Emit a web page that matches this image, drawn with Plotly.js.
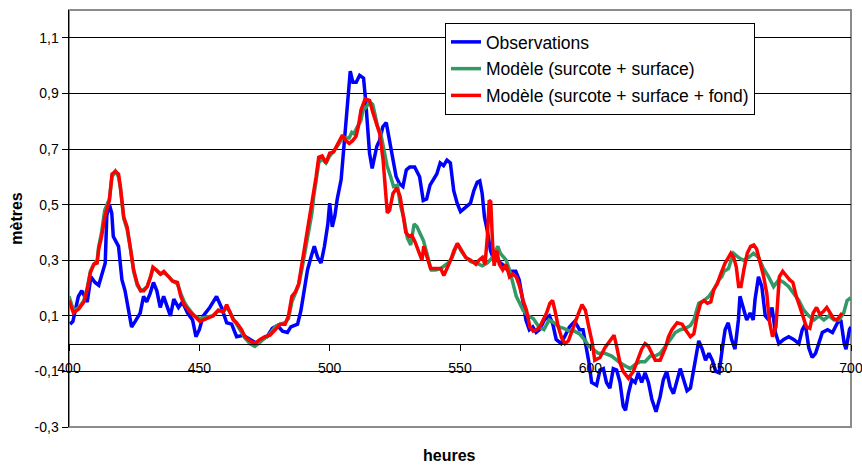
<!DOCTYPE html>
<html>
<head>
<meta charset="utf-8">
<script src="https://cdn.plot.ly/plotly-3.0.1.min.js"></script>
<style>html,body{margin:0;padding:0;background:#fff;}#chart{width:862px;height:467px;}</style>
</head>
<body>
<div id="chart"></div>
<script>
// ---- Data (hours, metres) ----
const obsHours = [400.4,401.5,403.6,404.9,406,407,408.4,410,411.4,412.6,413.9,414.5,415.5,416.4,417,419,420.3,421.5,422.8,424,425.4,427.3,428.6,429.8,431.1,432.4,433.7,435,436.3,437.6,438.9,440.2,442,443.5,445.5,447.4,448.7,450,451.5,454,456.6,458.5,460.5,462.4,464.3,466.9,469.5,472,474,476,478,480,481.9,483.8,485.1,486.4,487.7,489,490.2,491.5,492.8,494.1,495.4,496.7,498,499.3,500,501,502,502.9,504.4,505.6,507,507.9,508.9,510.2,511.5,513,513.8,514.7,515.3,516.3,517.2,518.1,519.1,520.4,521.7,523,524.2,525.5,526.8,528.1,529.4,530.7,532.6,534.5,535.9,537.2,538.5,539.8,541.1,542.4,543.7,545,546.3,547.6,548.9,550.2,552.1,554,555.3,556.6,557.6,558.5,559.4,560.4,561.7,563,564.3,565.6,566.9,568.2,569.5,571.4,572.7,574,575.3,576.6,577.9,579.2,580.5,582.4,584.3,585.6,586.9,588.8,590.1,592,594,595.9,597.2,598.5,599.5,600.5,602.4,603.7,605,606.2,607.5,608.8,610.1,611.4,612.6,613.5,614.6,615.9,617.2,618.4,619.7,621,622.3,623.6,625.2,626.8,628,629.3,630.6,631.9,633.2,634.5,635.8,637.1,638.4,639.7,641.6,642.9,644.2,645.5,646.8,648.1,649.4,650.6,651.7,652.9,654.2,655.5,656.8,657.4,658.7,660,661.3,662.5,663.2,664.5,665.8,667.1,668.4,669.7,671,672.3,674.2,676.1,678,680,681.3,682.5,683.8,685.1,686.4,687.7,689,691,692.9,694.8,696.1,697.4,698.1,699.4,700];
const obsValues = [0.07,0.08,0.17,0.19,0.17,0.15,0.24,0.22,0.21,0.25,0.29,0.46,0.50,0.47,0.385,0.35,0.23,0.19,0.13,0.06,0.08,0.11,0.17,0.15,0.18,0.22,0.19,0.13,0.17,0.13,0.10,0.16,0.13,0.15,0.11,0.085,0.025,0.05,0.10,0.13,0.17,0.13,0.075,0.07,0.025,0.03,0.015,0.0,0.015,0.025,0.055,0.065,0.045,0.04,0.06,0.065,0.07,0.12,0.19,0.265,0.31,0.35,0.31,0.29,0.35,0.43,0.505,0.42,0.46,0.52,0.59,0.72,0.89,0.98,0.94,0.94,0.965,0.955,0.875,0.755,0.685,0.63,0.67,0.71,0.73,0.78,0.795,0.73,0.67,0.60,0.575,0.565,0.625,0.635,0.635,0.60,0.515,0.52,0.57,0.59,0.61,0.65,0.64,0.66,0.65,0.55,0.505,0.475,0.49,0.505,0.55,0.58,0.585,0.54,0.455,0.41,0.335,0.30,0.30,0.29,0.28,0.265,0.26,0.26,0.23,0.16,0.085,0.05,0.06,0.04,0.05,0.085,0.10,0.07,0.015,0.0,0.025,0.06,0.08,0.05,0.05,-0.01,-0.07,-0.14,-0.15,-0.095,-0.09,-0.14,-0.16,-0.09,-0.095,-0.14,-0.225,-0.24,-0.18,-0.13,-0.14,-0.105,-0.14,-0.105,-0.14,-0.2,-0.245,-0.19,-0.13,-0.1,-0.155,-0.18,-0.13,-0.09,-0.13,-0.17,-0.16,-0.09,0.01,-0.02,-0.06,-0.035,-0.06,-0.1,-0.105,-0.02,0.05,0.075,0.015,-0.02,0.085,0.17,0.13,0.085,0.11,0.085,0.16,0.24,0.205,0.10,0.085,0.13,0.04,0.0,0.015,0.025,0.015,0.0,0.05,0.07,-0.015,-0.05,-0.035,0.0,0.04,0.05,0.04,0.075,0.085,0.0,-0.02,0.05,0.06];

const surfHours = [400,401.7,403.8,405.7,407,408.2,409.5,410.8,411.4,412.5,413.7,414.6,415.5,416.5,417.8,419,419.7,421,422.3,423.6,424.8,426.2,427.5,428.7,430,431.3,432.2,433.5,435.1,436.4,438.4,439.7,441.6,442.9,444.2,445.5,446.8,448.1,450.2,452.8,455.3,457.3,459.2,460.5,461.7,463,464.3,466.2,467.5,469.4,471.3,473.3,475.2,477.1,479.1,481,482.9,484.2,485.5,486.8,488.1,489.4,490.6,491.9,493.2,493.9,494.8,495.8,497.1,498.6,500,501.5,503.6,504.9,506.2,507.5,508.5,509.3,510.6,511.9,512.8,514,515.3,516.5,517.5,518.4,519.5,520.9,522,523.4,524.5,526,527.1,528.5,529.8,531.1,532.4,533.5,535,536,537.7,539,540.6,542.6,544,545.5,547,549,550.3,552.2,554.1,556.1,558.6,560.5,562.5,564.5,565.5,567.7,569,570.3,571.6,572.9,574.2,576.1,578.1,580.3,582.2,584.2,586,588,589.8,592,593.9,595.9,598.1,599.4,600.5,603,605.6,608.2,610.8,613.3,615.3,617.2,619.1,621,623,624.9,626.8,628.8,630.6,632.6,634.5,636.5,638.4,639.7,641.6,643.6,645.5,647.4,649.4,650.4,651.3,653,654.9,656.8,658.7,660.7,662.6,664.5,666.4,668.4,670.3,672.3,674.2,676.1,678,680,681.9,683.8,685.8,687.7,689.6,691.6,693.5,695.4,697.2,698.5,700];
const surfValues = [0.17,0.12,0.13,0.155,0.2,0.26,0.285,0.30,0.35,0.40,0.48,0.50,0.52,0.60,0.62,0.60,0.56,0.45,0.41,0.34,0.26,0.21,0.19,0.195,0.205,0.24,0.27,0.265,0.25,0.255,0.24,0.225,0.215,0.18,0.15,0.13,0.115,0.10,0.09,0.095,0.10,0.12,0.115,0.13,0.115,0.09,0.07,0.04,0.02,0.0,-0.01,0.005,0.02,0.035,0.06,0.07,0.075,0.09,0.15,0.18,0.21,0.27,0.33,0.40,0.47,0.53,0.59,0.65,0.665,0.65,0.675,0.69,0.72,0.74,0.74,0.74,0.76,0.755,0.78,0.80,0.84,0.85,0.87,0.86,0.82,0.78,0.76,0.70,0.64,0.60,0.565,0.57,0.50,0.45,0.38,0.355,0.43,0.42,0.39,0.37,0.31,0.265,0.265,0.27,0.28,0.29,0.31,0.36,0.335,0.31,0.295,0.29,0.28,0.29,0.31,0.35,0.325,0.30,0.265,0.215,0.17,0.145,0.12,0.10,0.09,0.06,0.05,0.085,0.075,0.06,0.055,0.045,0.045,0.035,0.01,-0.01,-0.015,-0.035,-0.035,-0.045,-0.065,-0.08,-0.09,-0.075,-0.065,-0.065,-0.045,-0.045,-0.035,-0.01,0.015,0.04,0.05,0.055,0.065,0.085,0.145,0.155,0.17,0.195,0.23,0.24,0.26,0.27,0.325,0.31,0.30,0.31,0.325,0.31,0.27,0.24,0.205,0.23,0.22,0.205,0.18,0.155,0.12,0.10,0.085,0.10,0.085,0.10,0.085,0.085,0.11,0.155,0.165];

const fondHours = [400,401.7,403.8,405.7,407,408.2,409.5,410.8,411.4,412.5,413.7,414.6,415.5,416.5,417.8,419,419.7,421,422.3,423.6,424.8,426.2,427.5,428.7,430,431.3,432.2,433.5,435.1,436.4,438.4,439.7,441.6,442.9,444.2,445.5,446.8,448.1,450.2,452.8,455.3,457.3,459.2,460.5,461.7,463,464.3,466.2,467.5,469.4,471.3,473.3,475.2,477.1,479.1,481,482.9,484.2,485.5,486.8,488.1,489.4,490.6,491.9,493.2,493.9,494.8,495.8,497.1,498.6,500,501.5,503.6,504.9,506.2,507.5,508.8,510.1,511,512,513.6,515.3,516.6,517.9,519.2,520.5,521.2,522.1,523,524.3,525.7,527,528.3,529.2,530.5,531.5,532.8,534.1,535.4,536.1,537.4,538.7,540.6,542.6,543.8,545.1,546.4,547.7,549,550.3,552.2,554.1,556.1,557.3,558.6,559.6,560.5,561.2,561.8,562.5,563.1,564.1,565.1,566.4,567.7,569,570.3,571.6,572.9,574.2,575.5,576.8,578.1,579.4,580.6,581.9,583.2,584.5,585.5,586.4,587.7,589,590.3,591.6,592.9,594.2,595.5,596.8,598.1,599.4,600.7,601.7,603.7,605.6,607.5,609.1,610.1,611.4,612.6,614.6,616.5,618.4,619.7,621,622.3,623.6,624.9,626.8,628.8,630,631.3,633.3,635.2,636.5,638.4,639.7,641,642.3,643.6,644.9,646.2,647.4,648.7,650,651.7,653,653.9,655,656,656.9,657.8,658.9,660.2,661.5,662.7,663.8,665.1,666.4,667.7,668.6,669.9,671.2,672.5,673.8,675.1,676.4,677.7,679,680.3,681.6,682.9,684.2,685.5,686.8,688.1,689.4,690.7,692,693.3,694.6,695.9,696.6];
const fondValues = [0.155,0.11,0.125,0.15,0.195,0.255,0.285,0.29,0.34,0.385,0.455,0.49,0.515,0.61,0.62,0.61,0.565,0.455,0.42,0.34,0.265,0.215,0.19,0.19,0.205,0.24,0.275,0.265,0.25,0.26,0.24,0.225,0.22,0.17,0.14,0.125,0.11,0.10,0.08,0.09,0.10,0.12,0.115,0.14,0.11,0.085,0.075,0.05,0.025,0.01,0.0,0.015,0.025,0.03,0.05,0.07,0.07,0.10,0.17,0.185,0.215,0.29,0.35,0.42,0.49,0.55,0.60,0.67,0.675,0.65,0.685,0.69,0.73,0.75,0.73,0.72,0.73,0.745,0.78,0.84,0.88,0.875,0.83,0.79,0.755,0.66,0.56,0.47,0.48,0.54,0.56,0.53,0.455,0.40,0.385,0.39,0.365,0.33,0.30,0.35,0.31,0.27,0.27,0.27,0.245,0.27,0.30,0.335,0.36,0.34,0.31,0.30,0.285,0.30,0.31,0.285,0.385,0.515,0.51,0.36,0.28,0.335,0.285,0.265,0.285,0.24,0.25,0.24,0.205,0.155,0.12,0.06,0.045,0.05,0.06,0.085,0.11,0.145,0.155,0.12,0.06,0.02,0.0,0.01,0.045,0.075,0.11,0.14,0.12,0.06,0.005,-0.06,-0.05,-0.015,0.01,0.03,-0.01,-0.07,-0.1,-0.125,-0.1,-0.05,-0.02,0.0,-0.01,-0.035,-0.06,-0.06,-0.015,0.025,0.05,0.075,0.07,0.05,0.025,0.035,0.10,0.145,0.155,0.145,0.15,0.195,0.215,0.25,0.29,0.31,0.325,0.31,0.275,0.205,0.205,0.265,0.325,0.35,0.355,0.34,0.29,0.245,0.18,0.085,0.025,0.06,0.24,0.26,0.245,0.23,0.22,0.17,0.135,0.10,0.06,0.055,0.11,0.13,0.105,0.115,0.13,0.11,0.09,0.085,0.105,0.11];

const seriesNames = ["Observations", "Modèle (surcote + surface)", "Modèle (surcote + surface + fond)"];
const yTickVals = [-0.3,-0.1,0.1,0.3,0.5,0.7,0.9,1.1];
const yTickText = ["-0,3","-0,1","0,1","0,3","0,5","0,7","0,9","1,1"];
const xTickVals = [400,450,500,550,600,650,700];

const FONT = '"Liberation Sans", Arial, sans-serif';

const traces = [
  {x: obsHours, y: obsValues, name: seriesNames[0], mode: 'lines', legendgroup: 'a',
   line: {color: '#0000FF', width: 3.5}},
  {x: surfHours, y: surfValues, name: seriesNames[1], mode: 'lines', legendgroup: 'b',
   line: {color: '#339966', width: 3.5}},
  {x: fondHours, y: fondValues, name: seriesNames[2], mode: 'lines', legendgroup: 'c',
   line: {color: '#FF0000', width: 3.5}}
];

const layout = {
  width: 862, height: 467,
  margin: {l: 69, r: 11, t: 10, b: 40},
  paper_bgcolor: '#fff', plot_bgcolor: '#fff',
  font: {family: FONT, color: '#000', size: 14},
  showlegend: true,
  legend: {
    x: 0.4808, y: 0.9688, xanchor: 'left', yanchor: 'top',
    bgcolor: '#fff', bordercolor: '#000', borderwidth: 1,
    font: {family: FONT, size: 17.5, color: '#000'},
    tracegroupgap: 1
  },
  xaxis: {
    range: [400, 700], anchor: 'free', position: 0.2,
    tickvals: xTickVals, ticks: 'outside', ticklen: 6, tickcolor: '#000', tickwidth: 1,
    ticklabelstandoff: 5, ticklabeloverflow: 'allow',
    showline: true, linecolor: '#000', linewidth: 1.5,
    showgrid: false, zeroline: false,
    tickfont: {family: FONT, size: 14, color: '#000'}
  },
  yaxis: {
    range: [-0.3, 1.2],
    tickvals: yTickVals, ticktext: yTickText,
    ticks: 'outside', ticklen: 6, tickcolor: '#000', tickwidth: 1,
    showline: true, linecolor: '#000', linewidth: 1.5,
    showgrid: true, gridcolor: '#000', gridwidth: 1,
    zeroline: false,
    tickfont: {family: FONT, size: 14, color: '#000'},
    title: {text: 'mètres', font: {family: FONT, size: 16, color: '#000', weight: 'bold'}, standoff: 8}
  },
  shapes: [
    {type: 'rect', xref: 'paper', yref: 'paper', x0: 0, x1: 1, y0: 0, y1: 1,
     line: {color: '#8c8c8c', width: 2}, layer: 'below'}
  ],
  annotations: [
    {text: 'heures', xref: 'paper', yref: 'paper', x: 0.486, y: -0.0695,
     xanchor: 'center', yanchor: 'middle', showarrow: false,
     font: {family: FONT, size: 16, color: '#000', weight: 'bold'}}
  ]
};

Plotly.newPlot('chart', traces, layout, {displayModeBar: false, staticPlot: true});
</script>
</body>
</html>
